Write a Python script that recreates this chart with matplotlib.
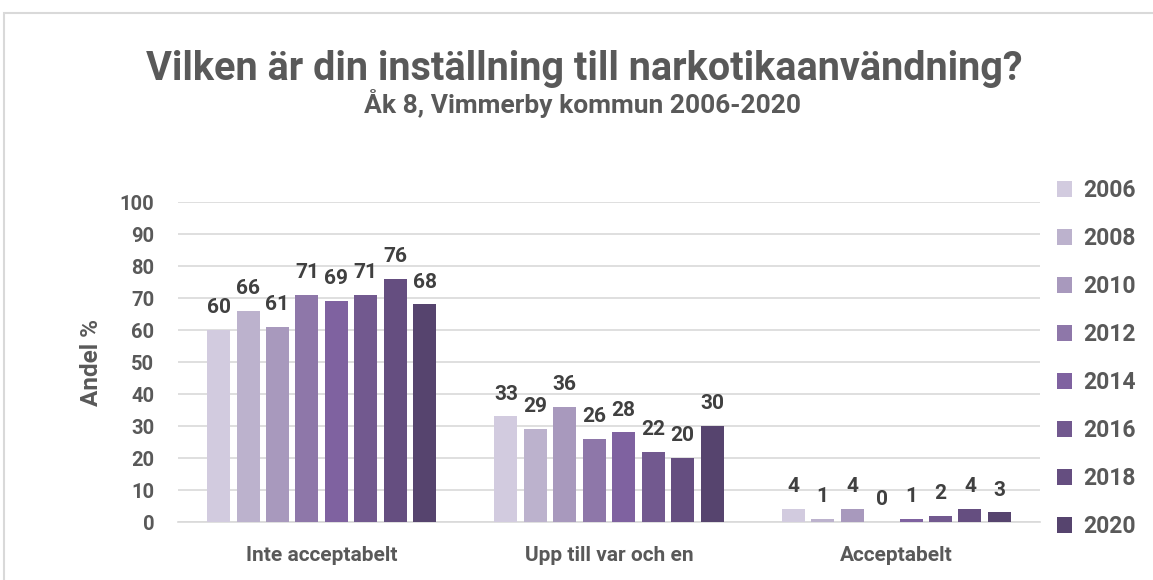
import numpy as np
import matplotlib.pyplot as plt
from matplotlib.patches import Rectangle

plt.rcParams['font.family'] = ['Roboto', 'DejaVu Sans']
plt.rcParams['font.weight'] = 'bold'

categories = ['Inte acceptabelt', 'Upp till var och en', 'Acceptabelt']
years = ['2006', '2008', '2010', '2012', '2014', '2016', '2018', '2020']
values = {
    '2006': [60, 33, 4],
    '2008': [66, 29, 1],
    '2010': [61, 36, 4],
    '2012': [71, 26, 0],
    '2014': [69, 28, 1],
    '2016': [71, 22, 2],
    '2018': [76, 20, 4],
    '2020': [68, 30, 3],
}
colors = ['#d2cbdf', '#bcb2cd', '#a899bd', '#8e77a9',
          '#7f62a0', '#72598f', '#654e80', '#56446e']

fig = plt.figure(figsize=(11.53, 5.8), dpi=100)

# thin grey frame around the chart area
fig.patches.append(Rectangle((4 / 1153, -0.05), 1.2, 1 - 13 / 580 + 0.05,
                             transform=fig.transFigure, fill=False,
                             edgecolor='#d9d9d9', linewidth=1.5))

ax = fig.add_axes([178 / 1153, 1 - 522 / 580, (1040 - 178) / 1153, 320 / 580])

x = np.arange(len(categories))
slot = 0.1025
width = 0.08
for i, (year, col) in enumerate(zip(years, colors)):
    pos = x + (i - 3.5) * slot
    bars = ax.bar(pos, values[year], width, color=col, label=year, zorder=3)
    for b, v in zip(bars, values[year]):
        ax.text(b.get_x() + b.get_width() / 2, v + 4.0, str(v),
                ha='center', va='bottom', fontsize=15, fontweight='bold',
                color='#404040')

ax.set_xlim(-0.5, 2.5)
ax.set_ylim(0, 100)
ax.set_yticks(range(0, 101, 10))
ax.set_xticks(x)
ax.set_xticklabels(categories)
ax.grid(axis='y', color='#d9d9d9', linewidth=1.2, zorder=0)
for s in ['top', 'right', 'left']:
    ax.spines[s].set_visible(False)
ax.spines['bottom'].set_color('#d9d9d9')
ax.spines['bottom'].set_linewidth(1.2)
ax.tick_params(axis='both', length=0, colors='#595959')
ax.tick_params(axis='y', labelsize=14.5, pad=17)
ax.tick_params(axis='x', labelsize=15, pad=17)
for lab in ax.get_xticklabels() + ax.get_yticklabels():
    lab.set_fontweight('bold')

ax.set_ylabel('Andel %', fontsize=17.5, fontweight='bold', color='#595959',
              labelpad=12)

fig.text(0.507, 1 - 69 / 580, 'Vilken är din inställning till narkotikaanvändning?',
         ha='center', va='center', fontsize=28.5, fontweight='bold', color='#595959')
fig.text(0.505, 1 - 104 / 580, 'Åk 8, Vimmerby kommun 2006-2020',
         ha='center', va='center', fontsize=19, fontweight='bold', color='#595959')

leg = ax.legend(loc='upper left', bbox_to_anchor=(1.009, 1.10), frameon=False,
                prop={'size': 16.5, 'weight': 'bold'}, handlelength=0.65,
                handleheight=0.65, handletextpad=0.5, labelspacing=1.09,
                borderaxespad=0)
for t in leg.get_texts():
    t.set_color('#595959')

fig.savefig('out.png', dpi=100, facecolor='white')
